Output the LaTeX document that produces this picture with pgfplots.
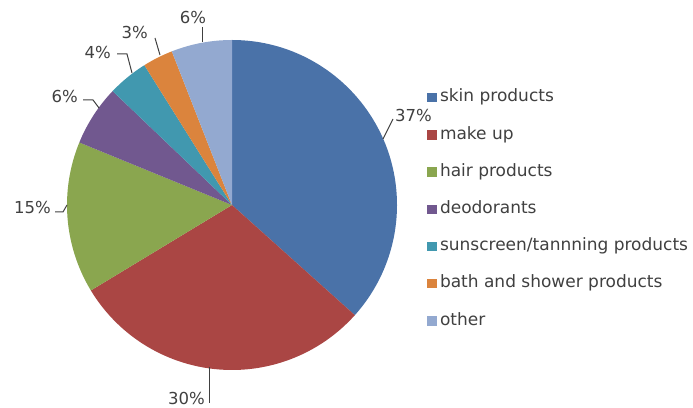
\documentclass[border=0pt]{standalone}
\usepackage{fontspec}
\setmainfont{DejaVu Sans}
\usepackage{pgfplots}
\usepackage{pgfplotstable}
\pgfplotsset{compat=1.18}
\definecolor{c1}{HTML}{4A72A8}
\definecolor{c2}{HTML}{AA4644}
\definecolor{c3}{HTML}{8AA64F}
\definecolor{c4}{HTML}{71588F}
\definecolor{c5}{HTML}{4198AF}
\definecolor{c6}{HTML}{DB843D}
\definecolor{c7}{HTML}{93A9D0}
\definecolor{lbl}{HTML}{404040}
\pgfplotstableread[col sep=comma]{
label,value,color
skin products,37,c1
make up,30,c2
hair products,15,c3
deodorants,6,c4
sunscreen/tannning products,4,c5
bath and shower products,3,c6
other,6,c7
}\piedata
\begin{document}
\begin{tikzpicture}
\useasboundingbox (0,0) rectangle (693bp,408bp);
\begin{axis}[
  at={(0,0)}, anchor=south west,
  width=693bp, height=408bp, scale only axis,
  xmin=0, xmax=693, ymin=0, ymax=408,
  hide axis, clip=false,
  legend style={draw=none, fill=none, at={(axis cs:425,318.5)}, anchor=north west,
    font=\fontsize{17bp}{19bp}\selectfont, text=lbl, row sep=20.2bp,
    inner sep=0pt, outer sep=0pt,
    nodes={text height=12bp, text depth=4bp, inner ysep=0.5bp, inner xsep=0.5bp}},
  legend cell align=left,
]
\pgfplotstablegetrowsof{\piedata}\pgfmathtruncatemacro\nlast{\pgfplotsretval-1}
\def\total{0}
\pgfplotsforeachungrouped \i in {0,...,\nlast}{%
  \pgfplotstablegetelem{\i}{value}\of\piedata
  \pgfmathsetmacro\total{\total+\pgfplotsretval}%
}
\def\cum{0}
\pgfplotsforeachungrouped \i in {0,...,\nlast}{%
  \pgfplotstablegetelem{\i}{value}\of\piedata \let\v\pgfplotsretval
  \pgfplotstablegetelem{\i}{color}\of\piedata \let\c\pgfplotsretval
  \pgfmathsetmacro\a{90-\cum/\total*360}%
  \pgfmathsetmacro\b{90-(\cum+\v)/\total*360}%
  \edef\temp{\noexpand\fill[\c] (axis cs:232,203) -- ++(\a:165bp) arc[start angle=\a, end angle=\b, radius=165bp] -- cycle;}%
  \temp
  \pgfmathsetmacro\cum{\cum+\v}%
}
% legend entries
\pgfplotsforeachungrouped \i in {0,...,\nlast}{%
  \pgfplotstablegetelem{\i}{color}\of\piedata \let\c\pgfplotsretval
  \pgfplotstablegetelem{\i}{label}\of\piedata \let\l\pgfplotsretval
  \edef\temp{\noexpand\addlegendimage{legend image code/.code={\noexpand\fill[\c, draw=none] (2bp,-4.5bp) rectangle (11.5bp,5bp); \noexpand\path[draw=none, fill=none] (0bp,0bp) -- (14.5bp,0bp);}}%
    \noexpand\addlegendentry{\l}}%
  \temp
}
% data labels with leader lines
\begin{scope}[font=\fontsize{16.5bp}{19bp}\selectfont, text=lbl]
\draw[lbl, line width=1bp] (axis cs:383,269) -- (axis cs:393,289);
\node[anchor=west, inner sep=1bp] at (axis cs:394,293) {37\%};
\draw[lbl, line width=1bp] (axis cs:209,41) -- (axis cs:209,5);
\node[anchor=east, inner sep=1bp] at (axis cs:206,10) {30\%};
\draw[lbl, line width=1bp] (axis cs:55,196) -- (axis cs:63,196) -- (axis cs:67,203);
\node[anchor=east, inner sep=1bp] at (axis cs:52,201) {15\%};
\draw[lbl, line width=1bp] (axis cs:83,308) -- (axis cs:93,308) -- (axis cs:99,300);
\node[anchor=east, inner sep=1bp] at (axis cs:79,312) {6\%};
\draw[lbl, line width=1bp] (axis cs:117,354) -- (axis cs:127,354) -- (axis cs:132,335);
\node[anchor=east, inner sep=1bp] at (axis cs:112,356) {4\%};
\draw[lbl, line width=1bp] (axis cs:155,370) -- (axis cs:160,353);
\node[anchor=east, inner sep=1bp] at (axis cs:149,376) {3\%};
\draw[lbl, line width=1bp] (axis cs:202,381) -- (axis cs:202,366);
\node[inner sep=1bp] at (axis cs:193,391) {6\%};
\end{scope}
\end{axis}
\end{tikzpicture}
\end{document}
